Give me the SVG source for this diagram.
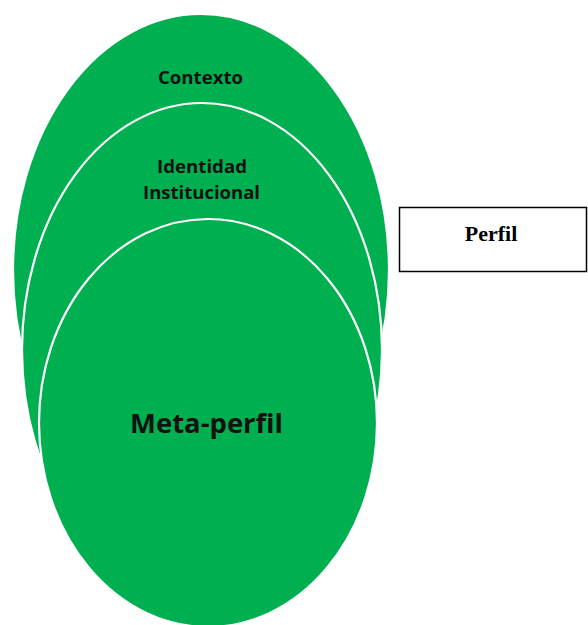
<svg xmlns="http://www.w3.org/2000/svg" width="588" height="625" viewBox="0 0 588 625">
<style>
.ell{fill:#00B050;stroke:#ffffff;stroke-width:2.2}
.lbl{font-family:"Open Sans","Noto Sans",sans-serif;font-weight:700;fill:#111;text-anchor:middle}
.box{fill:#ffffff;stroke:#000;stroke-width:1.5}
.ptxt{font-family:"Liberation Serif",serif;font-weight:700;font-size:22px;fill:#000;text-anchor:middle}
</style>
<rect width="588" height="625" fill="#ffffff"/>
<g id="contexto">
<ellipse class="ell" cx="201" cy="270" rx="188" ry="256"/>
<text class="lbl" x="200.5" y="84" font-size="18.5" textLength="85" lengthAdjust="spacingAndGlyphs">Contexto</text>
</g>
<g id="identidad">
<ellipse class="ell" cx="202" cy="350" rx="180" ry="247"/>
<text class="lbl" x="202" y="173" font-size="18.5" textLength="90" lengthAdjust="spacingAndGlyphs">Identidad</text>
<text class="lbl" x="201.5" y="199" font-size="18.5" textLength="117" lengthAdjust="spacingAndGlyphs">Institucional</text>
</g>
<g id="metaperfil">
<ellipse class="ell" cx="208" cy="423" rx="169" ry="204"/>
<text class="lbl" x="206.5" y="433" font-size="27" textLength="153" lengthAdjust="spacingAndGlyphs">Meta-perfil</text>
</g>
<g id="perfil">
<rect class="box" x="399.5" y="207.5" width="187" height="64"/>
<text class="ptxt" x="491" y="241">Perfil</text>
</g>
<g id="connectors"/>
</svg>
